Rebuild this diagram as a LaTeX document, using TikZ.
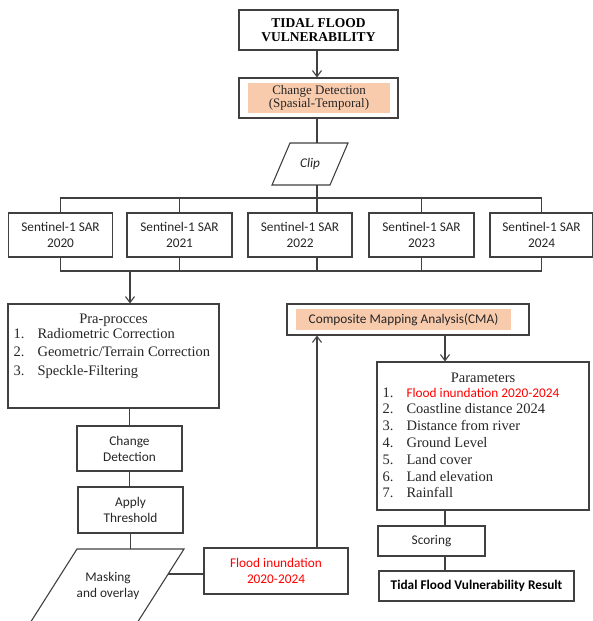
\documentclass[tikz,border=0pt]{standalone}
\usepackage{fontspec}
\setmainfont{Liberation Serif}
\setsansfont{Carlito}
\usetikzlibrary{arrows.meta}
\definecolor{gray1}{HTML}{404040}
\definecolor{gray2}{HTML}{262626}
\definecolor{peach1}{HTML}{F8CBAD}
\definecolor{red1}{HTML}{FF0000}

\begin{document}
\begin{tikzpicture}[x=1pt, y=-1pt, line width=1.1pt, color=gray1,
  box/.style={draw=gray1, rectangle, inner sep=0pt, align=center, text=gray2,
    font=\sffamily\fontsize{13.3}{16}\selectfont},
  peach/.style={fill=peach1, inner sep=0pt, align=center, text=gray2},
  plain/.style={inner sep=0pt, align=center, text=gray2},
  arr/.style={-{Straight Barb[length=6pt,width=9pt]}}]
\clip (0,0) rectangle (593,621);

% top part
\node (title) [box, minimum width=159, minimum height=40, text=black,
  font=\fontsize{13.5}{14.5}\selectfont\bfseries] at (318.5,30) {TIDAL FLOOD\\VULNERABILITY};
\node (cd) [box, minimum width=159, minimum height=40] at (318.5,98) {};
\node (cdIn) [peach, minimum width=142, minimum height=30,
  font=\fontsize{13}{13}\selectfont] at (319,98) {Change Detection\\(Spasial-Temporal)};
\coordinate (trunk) at (317,0);
\draw[arr] (title.south -| trunk) -- (cd.north -| trunk);

% clip
\coordinate (clTL) at (290,143);
\coordinate (clTR) at (348,143);
\coordinate (clBR) at (330,185);
\coordinate (clBL) at (272,185);
\draw (clTL) -- (clTR) -- (clBR) -- (clBL) -- cycle;
\node (clip) [plain, font=\sffamily\itshape\fontsize{13.3}{16}\selectfont] at (310,164) {Clip};
\draw (cd.south -| trunk) -- (clTL -| trunk);

% sentinel images
\node (s20) [box, minimum width=104, minimum height=44] at (60.5,235) {Sentinel-1 SAR\\2020};
\node (s21) [box, minimum width=105, minimum height=44] at (179.5,235) {Sentinel-1 SAR\\2021};
\node (s22) [box, minimum width=104, minimum height=44] at (300,235) {Sentinel-1 SAR\\2022};
\node (s23) [box, minimum width=105, minimum height=44] at (421.5,235) {Sentinel-1 SAR\\2023};
\node (s24) [box, minimum width=103, minimum height=44] at (541.5,235) {Sentinel-1 SAR\\2024};

\coordinate (busT) at (317,198);
\coordinate (busB) at (130,271);
\draw (clBL -| trunk) -- (busT);
\draw (s20.north) -- (s20.north |- busT) -| (s24.north);
\draw (s21.north) -- (s21.north |- busT);
\draw (s22.north -| trunk) -- (busT);
\draw (s23.north) -- (s23.north |- busT);
\draw (s20.south) -- (s20.south |- busB) -| (s24.south);
\draw (s21.south) -- (s21.south |- busB);
\draw (s22.south -| trunk) -- (trunk |- busB);
\draw (s23.south) -- (s23.south |- busB);

% left branch
\node (pra) [box, minimum width=211, minimum height=104] at (113.5,356) {};
\draw[arr] (busB) -- (pra.north -| busB);
\node (praT) [plain, anchor=base, font=\fontsize{14.5}{18}\selectfont] at (113.5,323) {Pra-procces};
\node (praL) [plain, anchor=base west, align=left, font=\fontsize{14.5}{18.5}\selectfont] at (13,338)
  {\begin{tabular}[t]{@{}p{24pt}@{}l@{}}
    1. & Radiometric Correction\\
    2. & Geometric/Terrain Correction\\
    3. & Speckle-Filtering
  \end{tabular}};

\node (cd2) [box, minimum width=105, minimum height=45] at (129.5,448.5) {Change\\Detection};
\draw (cd2.north |- pra.south) -- (cd2.north);
\node (apply) [box, minimum width=105, minimum height=46] at (130.5,510) {Apply\\Threshold};
\draw (cd2.south) -- (cd2.south |- apply.north);

\coordinate (mkTL) at (77,549);
\coordinate (mkTR) at (184,549);
\coordinate (mkBR) at (126.3,640);
\coordinate (mkBL) at (19.3,640);
\draw (mkTL) -- (mkTR) -- (mkBR) -- (mkBL) -- cycle;
\node (mask) [plain, font=\sffamily\fontsize{13.3}{16}\selectfont] at (108,586) {Masking\\and overlay};
\draw (apply.south) -- (apply.south |- mkTL);

\node (flood) [box, minimum width=144, minimum height=46, text=red1] at (276,571) {Flood inundation\\2020-2024};
\coordinate (mkR) at (168,574);
\draw (mkR) -- (mkR -| flood.west);

% right branch
\node (cma) [box, minimum width=242, minimum height=31] at (408,319.5) {};
\node (cmaIn) [peach, minimum width=215, minimum height=21,
  font=\sffamily\fontsize{13.3}{16}\selectfont] at (403.5,319.5) {Composite Mapping Analysis(CMA)};
\draw[arr] (flood.north -| trunk) -- (cma.south -| trunk);

\node (par) [box, minimum width=212, minimum height=148] at (483,436) {};
\coordinate (side) at (445,0);
\draw[arr] (cma.south -| side) -- (par.north -| side);
\node (parT) [plain, anchor=base, font=\fontsize{14.5}{17}\selectfont] at (483,382) {Parameters};
\node (parL) [plain, anchor=base west, align=left, font=\fontsize{14.5}{16.8}\selectfont] at (382,397)
  {\begin{tabular}[t]{@{}p{24pt}@{}l@{}}
    1. & {\sffamily\fontsize{13.3}{16.8}\selectfont\color{red1}Flood inundation 2020-2024}\\
    2. & Coastline distance 2024\\
    3. & Distance from river\\
    4. & Ground Level\\
    5. & Land cover\\
    6. & Land elevation\\
    7. & Rainfall
  \end{tabular}};

\node (score) [box, minimum width=107, minimum height=30] at (431.5,541) {Scoring};
\draw (par.south -| side) -- (score.north -| side);
\node (res) [box, minimum width=195, minimum height=30, text=black,
  font=\sffamily\bfseries\fontsize{13.3}{16}\selectfont] at (476.5,586) {Tidal Flood Vulnerability Result};
\draw (score.south -| side) -- (res.north -| side);
\end{tikzpicture}
\end{document}
